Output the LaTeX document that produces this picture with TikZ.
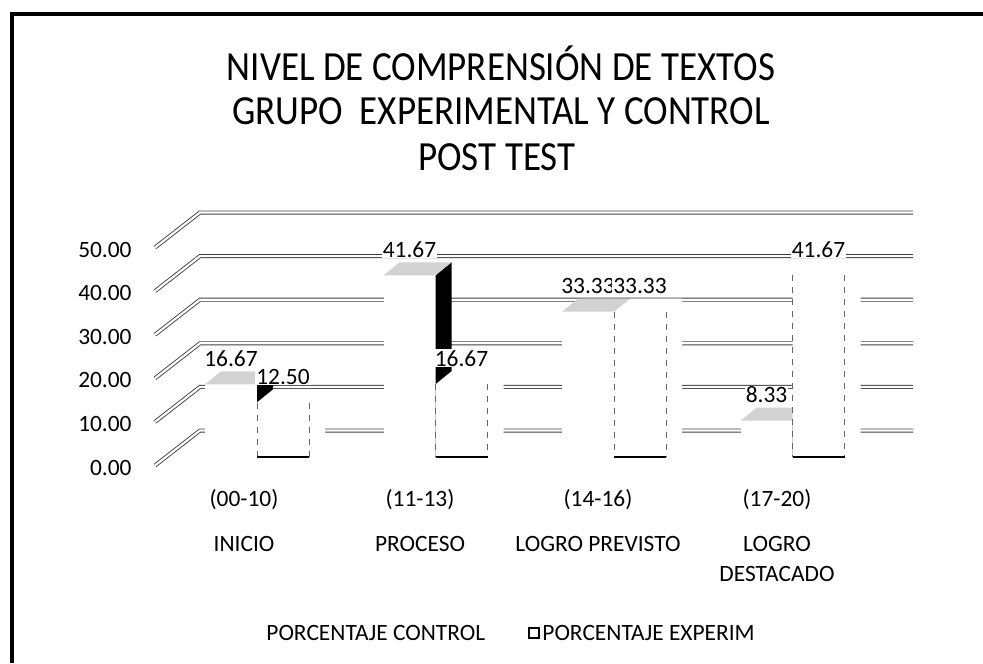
\documentclass[tikz,border=0pt]{standalone}
\usepackage{fontspec}
\setmainfont{Carlito}
\usetikzlibrary{positioning}

\tikzset{
  gridln/.style={draw=black!75,double=white,double distance=1.1pt,line width=0.45pt},
  lbl/.style={font=\fontsize{11.7}{15}\selectfont,inner sep=0.5pt},
  val/.style={lbl,fill=white},
  ttl/.style={font=\fontsize{18.5}{23.5}\selectfont,inner sep=0pt,yscale=1.12},
  expedge/.style={dashed,draw=black!60,line width=0.5pt}
}

\begin{document}
\begin{tikzpicture}[x=0.5pt,y=-0.5pt]
    \useasboundingbox (0,0) rectangle (983,663);
    % frame
    \draw[line width=2pt] (12,663) -- (12,14) -- (983,14);
    % title
    \node (t1) [ttl] at (501,63) {NIVEL DE COMPRENSIÓN DE TEXTOS};
    \node (t2) [ttl] at (501,111) {GRUPO\ \ EXPERIMENTAL Y CONTROL};
    \node (t3) [ttl] at (497,157) {POST TEST};
    % walls and value axis
    \foreach \k/\txt in {0/0.00,1/10.00,2/20.00,3/30.00,4/40.00,5/50.00} {
      \pgfmathsetmacro\yb{430.5-43.6*\k}
      \draw[gridln] (155,\yb+35) -- (200,\yb) -- (913,\yb);
      \node (ax\k) [lbl,anchor=east] at (133,\yb+37) {\txt};
    }
    % bars: control left, experimental right
    \foreach \xc/\vc/\ve [count=\i] in {205/16.67/12.50,383.5/41.67/16.67,562/33.33/33.33,740.5/8.33/41.67} {
      \pgfmathsetmacro\tc{457-4.36*\vc}
      \pgfmathsetmacro\te{457-4.36*\ve}
      \pgfmathsetmacro\xe{\xc+52}
      \fill[white] (\xc,457) rectangle (\xe,\tc);
      \fill[black] (\xe,457) -- ++(16,-13) -- (\xe+16,\tc-13) -- (\xe,\tc) -- cycle;
      \fill[gray!35] (\xc,\tc) -- ++(16,-13) -- ++(52,0) -- (\xe,\tc) -- cycle;
      \fill[white] (\xe,457) -- (\xe+52,457) -- ++(16,-13) -- (\xe+68,\te-13)
        -- (\xe+16,\te-13) -- (\xe,\te) -- cycle;
      \draw[expedge] (\xe,\te) -- (\xe,457) (\xe+52,\te) -- (\xe+52,457);
      \draw[line width=0.6pt] (\xe,457) -- (\xe+52,457);
      \node (c\i) [val] at (\xc+26,\tc-26) {\vc};
      \node (e\i) [val] at (\xe+26,\te-26) {\ve};
    }
    % categories
    \node (r1) [lbl] at (244,500) {(00-10)};
    \node (r2) [lbl] at (420,500) {(11-13)};
    \node (r3) [lbl] at (598,500) {(14-16)};
    \node (r4) [lbl] at (777,500) {(17-20)};
    \node (n1) [lbl] at (244,544) {INICIO};
    \node (n2) [lbl] at (420,544) {PROCESO};
    \node (n3) [lbl] at (598,544) {LOGRO PREVISTO};
    \node (n4) [lbl,align=center] at (777,559) {LOGRO\\DESTACADO};
    % legend
    \node (lc) [lbl,anchor=west] at (265,633) {PORCENTAJE CONTROL};
    \node (lk) [draw,line width=0.6pt,minimum size=5pt,inner sep=0pt] at (534,633) {};
    \node (le) [lbl,anchor=west] at (541,633) {PORCENTAJE EXPERIM};
\end{tikzpicture}
\end{document}
